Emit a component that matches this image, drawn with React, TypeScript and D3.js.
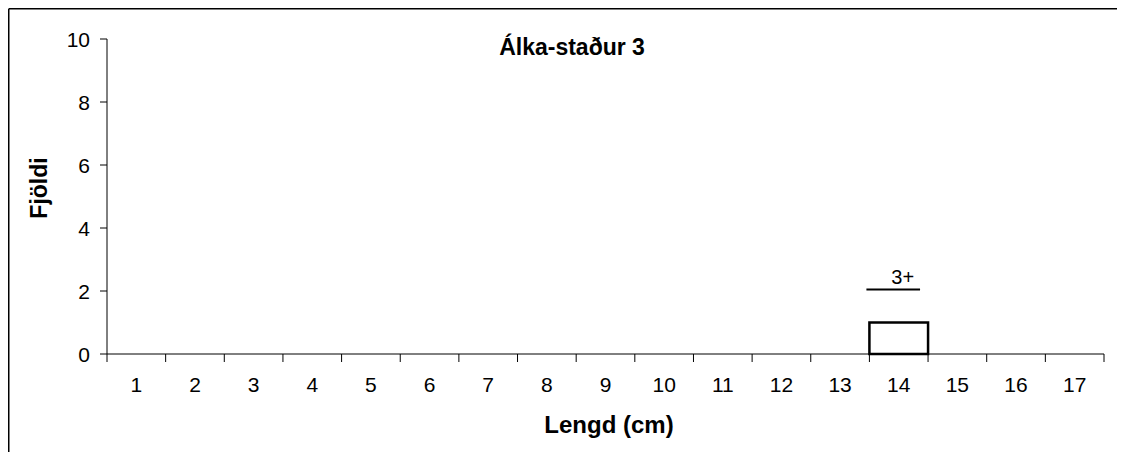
import * as d3 from 'd3';

const lengths = ['1', '2', '3', '4', '5', '6', '7', '8', '9', '10', '11', '12', '13', '14', '15', '16', '17'];
const counts = [0, 0, 0, 0, 0, 0, 0, 0, 0, 0, 0, 0, 0, 1, 0, 0, 0];
const yTicks = [0, 2, 4, 6, 8, 10];
const ageLabels = [{ label: '3+', at: '14', value: 2.05 }];

const W = 1117;
const H = 444;
// page coords minus the 8px body margin
const margin = { top: 31, left: 99, right: 21, bottom: 98 };

export default function App() {
  const plotW = W - margin.left - margin.right;
  const plotH = H - margin.top - margin.bottom;

  const x = d3.scaleBand<string>().domain(lengths).range([0, plotW]).padding(0);
  const y = d3.scaleLinear().domain([0, 10]).range([plotH, 0]);
  const bw = x.bandwidth();
  const font = 'Arial, "Liberation Sans", sans-serif';

  return (
    <svg width={W} height={H} style={{ display: 'block', fontFamily: font }}>
      {/* outer frame, right/bottom edges fall off the page */}
      <line x1={0.75} y1={0.75} x2={W} y2={0.75} stroke="#000" strokeWidth={1.5} />
      <line x1={0.75} y1={0.75} x2={0.75} y2={H} stroke="#000" strokeWidth={1.5} />

      <text x={564} y={47} textAnchor="middle" fontWeight="bold" fontSize={23}>
        Álka-staður 3
      </text>

      <g transform={`translate(${margin.left},${margin.top})`}>
        {/* y axis */}
        <line x1={0} y1={0} x2={0} y2={plotH} stroke="#000" strokeWidth={1} />
        {yTicks.map((t) => (
          <g key={t} transform={`translate(0,${y(t)})`}>
            <line x1={-7} x2={0} stroke="#000" strokeWidth={1} />
            <text x={-17} dy="0.36em" textAnchor="end" fontSize={21}>{t}</text>
          </g>
        ))}

        {/* x axis */}
        <line x1={0} y1={plotH} x2={plotW} y2={plotH} stroke="#000" strokeWidth={1} />
        {lengths.map((l) => (
          <line key={'t' + l} x1={x(l)!} x2={x(l)!} y1={plotH} y2={plotH + 8} stroke="#000" />
        ))}
        <line x1={plotW} x2={plotW} y1={plotH} y2={plotH + 8} stroke="#000" />
        {lengths.map((l) => (
          <text key={'l' + l} x={x(l)! + bw / 2} y={plotH + 38} textAnchor="middle" fontSize={21}>
            {l}
          </text>
        ))}

        {/* bars */}
        {lengths.map((l, i) =>
          counts[i] > 0 ? (
            <rect
              key={'b' + l}
              x={x(l)!}
              y={y(counts[i])}
              width={bw}
              height={y(0) - y(counts[i])}
              fill="#fff"
              stroke="#000"
              strokeWidth={2.5}
            />
          ) : null
        )}

        {/* age group markers */}
        {ageLabels.map((a) => (
          <g key={a.label}>
            <line x1={x(a.at)! - 3} x2={x(a.at)! + bw - 8} y1={y(a.value)} y2={y(a.value)} stroke="#000" strokeWidth={2} />
            <text x={x(a.at)! + bw / 2 + 4} y={y(a.value) - 5} textAnchor="middle" fontSize={20}>
              {a.label}
            </text>
          </g>
        ))}
      </g>

      <text x={601} y={425} textAnchor="middle" fontWeight="bold" fontSize={24}>
        Lengd (cm)
      </text>
      <text transform="translate(39,180) rotate(-90)" textAnchor="middle" fontWeight="bold" fontSize={23}>
        Fjöldi
      </text>
    </svg>
  );
}
